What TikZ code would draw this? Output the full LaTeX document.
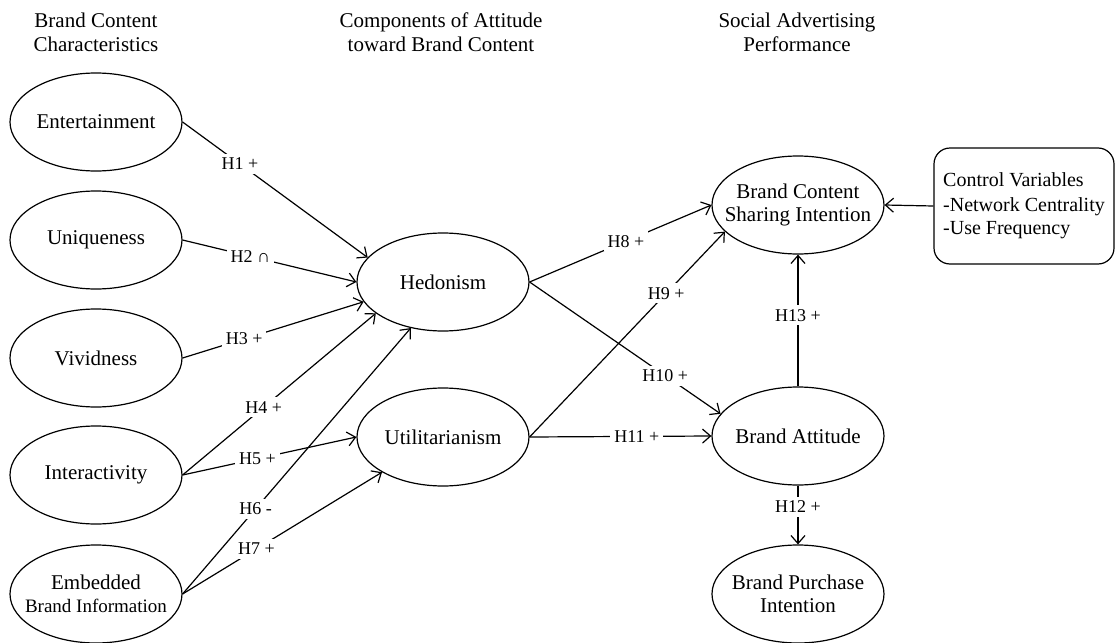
\documentclass[tikz,border=0pt]{standalone}
\usepackage{fontspec}
\setmainfont{Liberation Serif}
\usetikzlibrary{shapes.geometric,arrows.meta}

\tikzset{
  construct/.style={draw, ellipse, line width=0.6pt, minimum width=86pt,
    minimum height=49pt, inner xsep=-8pt, inner ysep=0pt, align=center,
    font=\fontsize{10.5}{11.5}\selectfont},
  header/.style={align=center, font=\fontsize{10.5}{12}\selectfont},
  link/.style={line width=0.6pt, -{Straight Barb[length=4pt,width=7pt]}},
  hyp/.style={fill=white, inner sep=2pt, font=\fontsize{9}{10}\selectfont}
}

\begin{document}
\begin{tikzpicture}[x=0.5pt,y=-0.5pt]
  \useasboundingbox (0,0) rectangle (1116,643);

  % column headers
  \node[header] (hchar) at (96,32) {Brand Content\\Characteristics};
  \node[header] (hcomp) at (441,32) {Components of Attitude\\toward Brand Content};
  \node[header] (hperf) at (797,32) {Social Advertising\\Performance};

  % brand content characteristics
  \foreach \name/\y/\txt in {ent/122/Entertainment, uni/240/Uniqueness,
      viv/358/Vividness, int/475/Interactivity}
    \node[construct] (\name) at (96,\y) {\txt};
  \node[construct] (emb) at (96,594)
    {Embedded\\{\fontsize{9.5}{11}\selectfont Brand Information}};

  % attitude components
  \node[construct] (hed) at (443,282) {Hedonism};
  \node[construct] (uti) at (443,437) {Utilitarianism};

  % performance
  \node[construct] (share) at (798,205) {Brand Content\\Sharing Intention};
  \node[construct] (batt) at (798,436) {Brand Attitude};
  \node[construct] (buy) at (798,594) {Brand Purchase\\Intention};

  \node[draw, rounded corners=8pt, line width=0.6pt, minimum width=90pt,
    minimum height=58pt, align=left, font=\fontsize{10}{11.5}\selectfont]
    (ctrl) at (1024,206)
    {Control Variables\\[1pt]-Network Centrality\\-Use Frequency};

  % hypotheses H1 - H7
  \draw[link] (ent.east) -- node[hyp, pos=0.31] (h1) {H1 +} (hed.162);
  \draw[link] (uni.east) -- node[hyp, pos=0.39] (h2) {H2 ∩} (hed.west);
  \draw[link] (viv.east) -- node[hyp, pos=0.34] (h3) {H3 +} (hed.194);
  \draw[link] (int.east) -- node[hyp, pos=0.42] (h4) {H4 +} (hed.205);
  \draw[link] (int.east) -- node[hyp, pos=0.43] (h5) {H5 +} (uti.west);
  \draw[link] (emb.east) -- node[hyp, pos=0.32] (h6) {H6 -} (hed.235);
  \draw[link] (emb.east) -- node[hyp, pos=0.37] (h7) {H7 +} (uti.210);

  % hypotheses H8 - H13
  \draw[link] (hed.east) -- node[hyp, pos=0.53] (h8) {H8 +} (share.west);
  \draw[link] (uti.east) -- node[hyp, pos=0.70] (h9) {H9 +} (share.200);
  \draw[link] (hed.east) -- node[hyp, pos=0.71] (h10) {H10 +} (batt.164);
  \draw[link] (uti.east) -- node[hyp, pos=0.59] (h11) {H11 +} (batt.west);
  \draw[link] (batt.south) -- node[hyp, pos=0.36] (h12) {H12 +} (buy.north);
  \draw[link] (batt.north) -- node[hyp, pos=0.54] (h13) {H13 +} (share.south);

  % control variables
  \draw[link] (ctrl.west) -- (share.east);
\end{tikzpicture}
\end{document}
